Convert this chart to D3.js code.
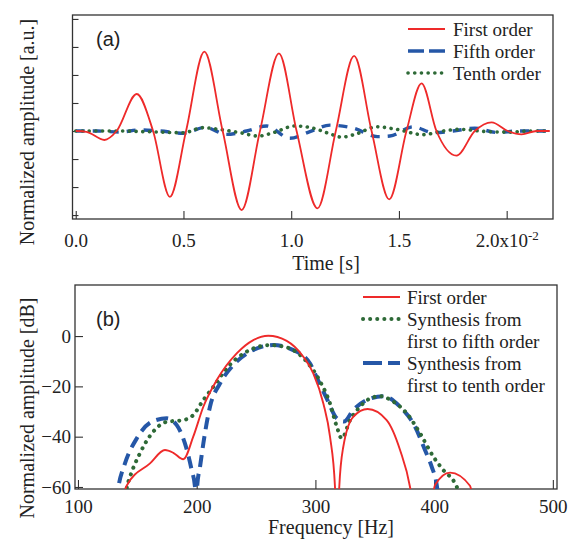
<!DOCTYPE html>
<html>
<head>
<meta charset="utf-8">
<script src="https://cdn.jsdelivr.net/npm/d3@7"></script>
<style>
  body { margin: 0; background: #fff; }
  svg { display: block; font-family: 'Liberation Serif', 'Times New Roman', serif; }
</style>
</head>
<body>
<script>
// ---- panel (a): time [x1e-2 s], amplitude in tick units
const firstOrderWave = [
    [0, 0], [0.05, -0.03], [0.133, -0.32], [0.19, 0], [0.283, 1.32], [0.359, 0], [0.437, -2.35],
    [0.512, 0], [0.597, 2.83], [0.682, 0], [0.77, -2.82], [0.855, 0], [0.943, 2.77], [1.025, 0],
    [1.122, -2.76], [1.207, 0], [1.292, 2.68], [1.373, 0], [1.455, -2.44], [1.535, 0], [1.605, 1.70],
    [1.674, 0], [1.767, -0.88], [1.852, 0], [1.93, 0.31], [2.005, 0], [2.069, -0.12], [2.14, 0], [2.2, 0]
];
const fifthOrderWave = [
    [0, 0], [0.1, 0], [0.205, -0.04], [0.298, 0.04], [0.391, 0], [0.499, -0.08], [0.6, 0.13],
    [0.7, -0.12], [0.793, 0], [0.886, 0.18], [0.994, -0.26], [1.087, -0.02], [1.18, 0.21], [1.288, 0.1],
    [1.4, -0.2], [1.458, -0.18], [1.566, 0.15], [1.659, -0.06], [1.751, 0], [1.852, 0.1], [1.953, -0.05],
    [2.05, 0], [2.2, 0]
];
const tenthOrderWave = [
    [0, 0], [0.2, 0], [0.35, -0.03], [0.499, -0.06], [0.592, 0.12], [0.654, 0.07], [0.762, -0.06],
    [0.847, -0.18], [0.917, -0.06], [1.017, 0.18], [1.102, 0.1], [1.18, -0.1], [1.234, -0.22],
    [1.303, -0.1], [1.396, 0.15], [1.489, 0.06], [1.612, -0.13], [1.705, 0], [1.783, 0.06],
    [1.906, -0.02], [2.015, -0.04], [2.1, 0], [2.2, 0]
];
const timeTicks = [0, 0.5, 1.0, 1.5, 2.0];
const ampTicks = [-3, -2, -1, 0, 1, 2, 3, 4];
const waveLabels = ["First order", "Fifth order", "Tenth order"];

// ---- panel (b): frequency [Hz], level [dB]
const firstOrderSpec = [
    [137, -66], [141, -59.5], [160.7, -50.6], [173.3, -45.3], [180.3, -46.4], [188.7, -49.0],
    [197.1, -40], [205.6, -28.1], [216.9, -17.5], [233.7, -6.9], [247.7, -1.6], [260.3, 0.1],
    [275.8, -1.9], [289.8, -8.2], [298.2, -14.8], [306.7, -26.8], [312.3, -40], [316.5, -60],
    [318.3, -90], [320.1, -60], [323.5, -44], [331.9, -32.1], [344, -29], [360, -33.4],
    [371.3, -45.3], [379.7, -60], [390, -100], [400.8, -59.2], [413.4, -54.3], [430.2, -59.5], [433, -66]
];
const synthFifthSpec = [
    [139, -66], [141.5, -59.5], [143.8, -56], [152.2, -46.6], [163.4, -38], [174.7, -34.1],
    [188.7, -33.4], [197.1, -31.4], [205.6, -25.4], [214, -20.2], [225.3, -12.8], [242.1, -6.2],
    [261.8, -3.6], [275.8, -4.5], [292.7, -10.2], [303.9, -18], [312.3, -26.8], [318, -36],
    [322.2, -40.7], [329.2, -33.4], [336.2, -28.8], [346.1, -24.8], [354.5, -23.9], [365.7, -26.1],
    [376.9, -30.7], [388.2, -38.7], [399.4, -48], [407.8, -53.3], [417.7, -58.6], [421, -62]
];
const synthTenthSpec = [
    [132, -66], [134, -60], [139.6, -50.6], [149.5, -40.7], [162.1, -34.1], [174.7, -32.7],
    [183.2, -35.4], [190.1, -42.7], [195.8, -53.3], [198.6, -60], [199.5, -80], [200.5, -59.2],
    [202.8, -52], [205.6, -42.7], [211.2, -28.1], [219.7, -18.8], [230.9, -11.5], [244.9, -6.2],
    [264.5, -3.6], [281.4, -5.6], [295.5, -10.9], [298.2, -13.5], [309.5, -24.8], [318, -32.7],
    [324, -34], [331.9, -29.4], [343.2, -25.4], [357.2, -23.9], [371.3, -28.1], [383.9, -36],
    [392.3, -45.3], [398, -52], [402.2, -59.2], [404, -66]
];
const freqTicks = [100, 200, 300, 400, 500];
const dbTicks = [-60, -40, -20, 0];
const specLabels = ["First order", ["Synthesis from", "first to fifth order"], ["Synthesis from", "first to tenth order"]];

// colours / strokes
const RED = "#ee2a2a", BLUE = "#2557a7", GREEN = "#2e6a37", INK = "#333";

let width = 578, height = 547;
let svg = d3.select("body").append("svg")
    .attr("width", width)
    .attr("height", height);

let line = d3.line().curve(d3.curveMonotoneX);

function styleAxis(g, size) {
    g.select(".domain").remove();
    g.selectAll(".tick line").attr("stroke", INK).attr("stroke-width", 1.1);
    g.selectAll(".tick text").attr("fill", "#222").style("font-size", size + "px")
        .style("font-family", "'Liberation Serif', 'Times New Roman', serif");
}

function drawFrame(x, y) {
    svg.append("rect")
        .attr("x", x.range()[0]).attr("y", y.range()[1])
        .attr("width", x.range()[1] - x.range()[0])
        .attr("height", y.range()[0] - y.range()[1])
        .attr("fill", "none").attr("stroke", INK).attr("stroke-width", 1.3);
}

// ================= panel (a) =================
let xT = d3.scaleLinear([-0.015, 2.215], [72.5, 553]);
let yT = d3.scaleLinear([-3.14, 4.14], [219, 15]);

svg.append("clipPath").attr("id", "clipA").append("rect")
    .attr("x", 72.5).attr("y", 15).attr("width", 480.5).attr("height", 204);

let axA = svg.append("g").attr("transform", "translate(0,219)")
    .call(d3.axisBottom(xT).tickValues(timeTicks).tickSize(-8).tickSizeOuter(0).tickPadding(15)
        .tickFormat(d3.format(".1f")));
styleAxis(axA, 19);
axA.selectAll(".tick text").filter(d => d === 2.0)
    .text("2.0x10")
    .append("tspan").attr("dy", "-0.55em").style("font-size", "13px").text("-2");

let ayA = svg.append("g").attr("transform", "translate(72.5,0)")
    .call(d3.axisLeft(yT).tickValues(ampTicks).tickSize(-6).tickSizeOuter(0).tickFormat(""));
styleAxis(ayA, 19);

drawFrame(xT, yT);

let lineA = line.x(d => xT(d[0])).y(d => yT(d[1]));
let gA = svg.append("g").attr("clip-path", "url(#clipA)");
gA.append("path").datum(fifthOrderWave).attr("d", lineA)
    .attr("fill", "none").attr("stroke", BLUE).attr("stroke-width", 3.4).attr("stroke-dasharray", "9,8");
gA.append("path").datum(tenthOrderWave).attr("d", lineA)
    .attr("fill", "none").attr("stroke", GREEN).attr("stroke-width", 3.6)
    .attr("stroke-linecap", "round").attr("stroke-dasharray", "0.1,6.6");
gA.append("path").datum(firstOrderWave).attr("d", lineA)
    .attr("fill", "none").attr("stroke", RED).attr("stroke-width", 1.8);

svg.append("text").attr("x", 96).attr("y", 46)
    .style("font-family", "'Liberation Sans', Arial, sans-serif").style("font-size", "20px")
    .attr("fill", "#222").text("(a)");

svg.append("text").attr("x", 326).attr("y", 270).attr("text-anchor", "middle")
    .style("font-size", "20px").attr("fill", "#222").text("Time [s]");
svg.append("text").attr("transform", "translate(27,132) rotate(-90)")
    .attr("text-anchor", "middle").attr("dominant-baseline", "central")
    .style("font-size", "20px").attr("fill", "#222").text("Normalized amplitude [a.u.]");

// legend (a)
let legendA = [
    { stroke: RED, width: 1.8, dash: null, cap: "butt" },
    { stroke: BLUE, width: 3.6, dash: "16,5", cap: "butt" },
    { stroke: GREEN, width: 3.6, dash: "0.1,6.6", cap: "round" }
];
let legAY = [29, 51, 73];
legendA.forEach((s, i) => {
    svg.append("line").attr("x1", 408).attr("x2", 445).attr("y1", legAY[i]).attr("y2", legAY[i])
        .attr("stroke", s.stroke).attr("stroke-width", s.width)
        .attr("stroke-dasharray", s.dash).attr("stroke-linecap", s.cap);
    svg.append("text").attr("x", 453).attr("y", legAY[i] + 6.5)
        .style("font-size", "19px").attr("fill", "#222").text(waveLabels[i]);
});

// ================= panel (b) =================
let xF = d3.scaleLinear([97.5, 503.5], [75, 557]);
let yF = d3.scaleLinear([-60.8, 20.3], [489, 285]);

svg.append("clipPath").attr("id", "clipB").append("rect")
    .attr("x", 75).attr("y", 285).attr("width", 482).attr("height", 204);

let axB = svg.append("g").attr("transform", "translate(0,489)")
    .call(d3.axisBottom(xF).tickValues(freqTicks).tickSize(-9).tickSizeOuter(0).tickPadding(11));
styleAxis(axB, 19);

let ayB = svg.append("g").attr("transform", "translate(75,0)")
    .call(d3.axisLeft(yF).tickValues(dbTicks).tickSize(-8).tickSizeOuter(0).tickPadding(4));
styleAxis(ayB, 19);

drawFrame(xF, yF);

let lineB = d3.line().curve(d3.curveMonotoneX).x(d => xF(d[0])).y(d => yF(d[1]));
let gB = svg.append("g").attr("clip-path", "url(#clipB)");
gB.append("path").datum(synthTenthSpec).attr("d", lineB)
    .attr("fill", "none").attr("stroke", BLUE).attr("stroke-width", 4).attr("stroke-dasharray", "12,7");
gB.append("path").datum(synthFifthSpec).attr("d", lineB)
    .attr("fill", "none").attr("stroke", GREEN).attr("stroke-width", 4)
    .attr("stroke-linecap", "round").attr("stroke-dasharray", "0.1,7");
gB.append("path").datum(firstOrderSpec).attr("d", lineB)
    .attr("fill", "none").attr("stroke", RED).attr("stroke-width", 1.9);

svg.append("text").attr("x", 96).attr("y", 326)
    .style("font-family", "'Liberation Sans', Arial, sans-serif").style("font-size", "20px")
    .attr("fill", "#222").text("(b)");

svg.append("text").attr("x", 331).attr("y", 534).attr("text-anchor", "middle")
    .style("font-size", "20px").attr("fill", "#222").text("Frequency [Hz]");
svg.append("text").attr("transform", "translate(27,408) rotate(-90)")
    .attr("text-anchor", "middle").attr("dominant-baseline", "central")
    .style("font-size", "20px").attr("fill", "#222").text("Normalized amplitude [dB]");

// legend (b)
let legendB = [
    { stroke: RED, width: 1.9, dash: null, cap: "butt", y: 297 },
    { stroke: GREEN, width: 4, dash: "0.1,7", cap: "round", y: 319 },
    { stroke: BLUE, width: 4, dash: "19,6", cap: "butt", y: 363 }
];
legendB.forEach((s, i) => {
    svg.append("line").attr("x1", 363).attr("x2", 400).attr("y1", s.y).attr("y2", s.y)
        .attr("stroke", s.stroke).attr("stroke-width", s.width)
        .attr("stroke-dasharray", s.dash).attr("stroke-linecap", s.cap);
    let lab = [].concat(specLabels[i]);
    lab.forEach((t, j) => {
        svg.append("text").attr("x", 407).attr("y", s.y + 6.5 + j * 22)
            .style("font-size", "19px").attr("fill", "#222").text(t);
    });
});
</script>
</body>
</html>
